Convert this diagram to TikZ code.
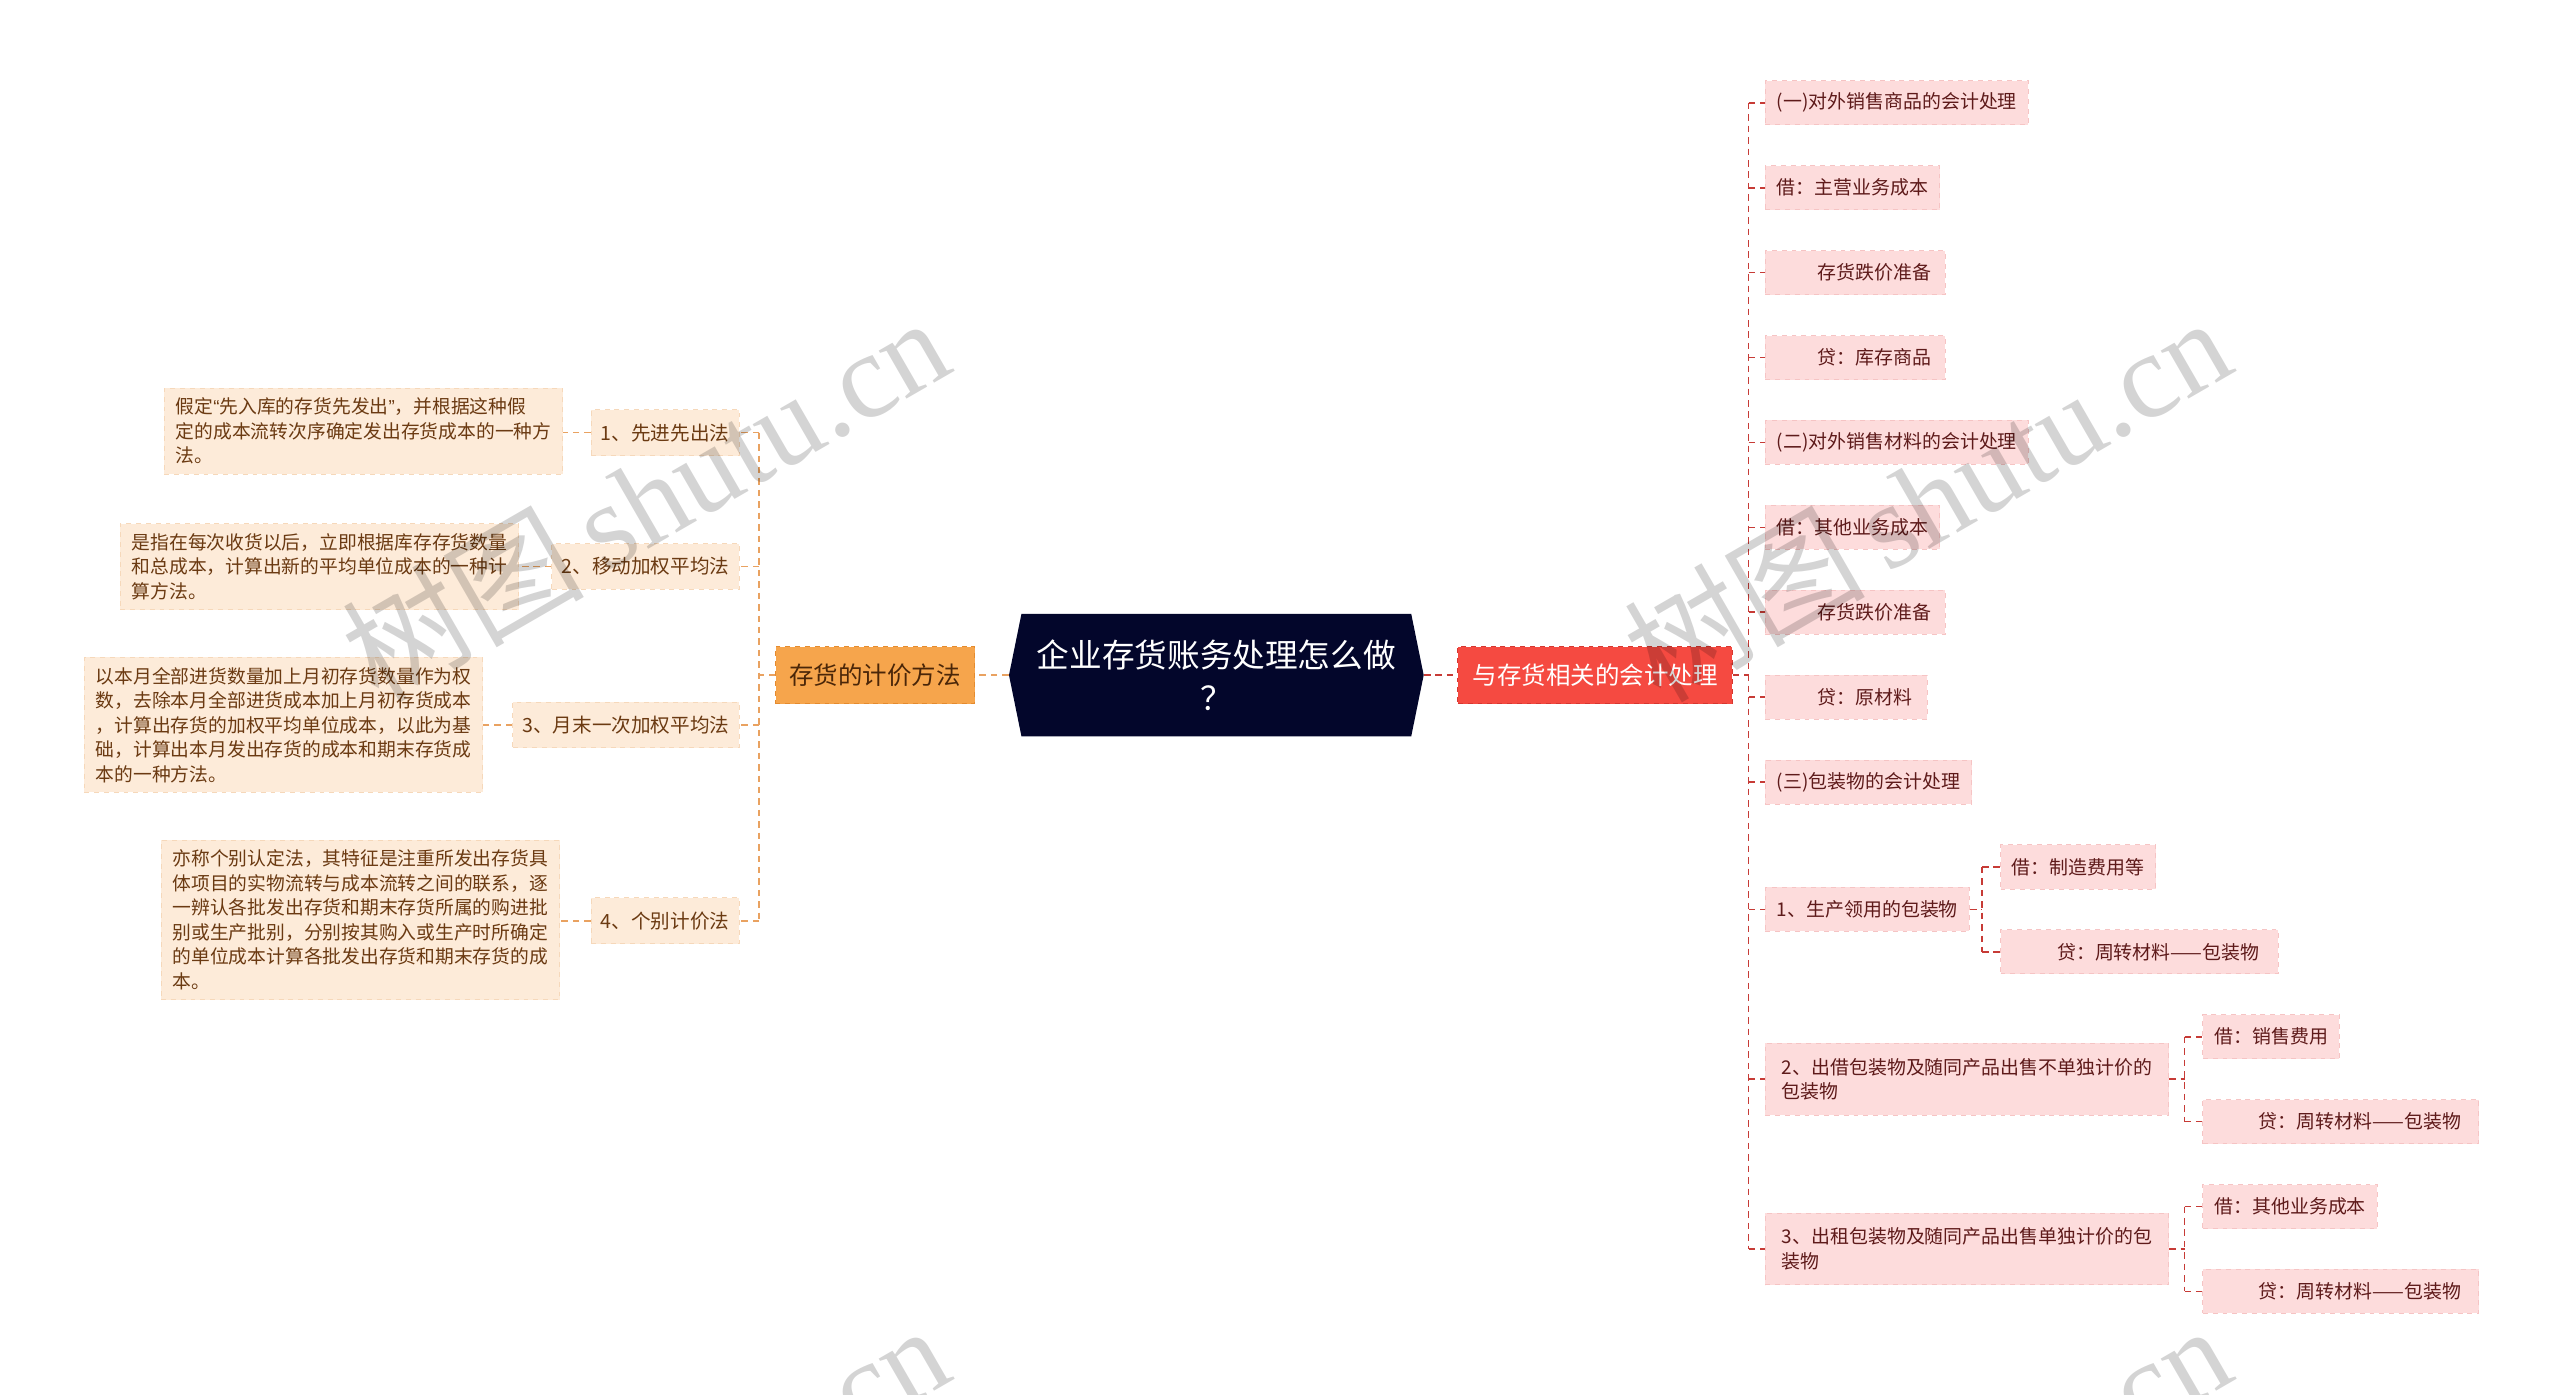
\documentclass[tikz,border=0pt]{standalone}
\usepackage{fontspec}
\setmainfont{Noto Sans CJK SC}
\newfontfamily\wmserif{Liberation Serif}
\newfontfamily\qfont{Liberation Sans}
\usetikzlibrary{shapes.symbols}
\XeTeXlinebreaklocale "zh"
\definecolor{rootfill}{HTML}{03062B}
\definecolor{omain}{HTML}{F6A54C}
\definecolor{omainb}{HTML}{E58B2E}
\definecolor{omaintext}{HTML}{4A2608}
\definecolor{rmainc}{HTML}{F54A41}
\definecolor{rmainb}{HTML}{D63730}
\definecolor{lfill}{HTML}{FDEBD9}
\definecolor{lborder}{HTML}{F6D8BA}
\definecolor{ltext}{HTML}{6B3A12}
\definecolor{rfill}{HTML}{FDDCDC}
\definecolor{rborder}{HTML}{F6C4C4}
\definecolor{rtext}{HTML}{5E1A1A}
\definecolor{lline}{HTML}{E9A261}
\definecolor{rline}{HTML}{C73B36}
\begin{document}
\begin{tikzpicture}[x=1pt,y=-1pt,
  rootnode/.style={shape=signal, signal to=east and west, signal pointer angle=157,
    fill=rootfill, minimum width=254pt, minimum height=75pt, inner sep=0pt,
    text=white, align=center, font=\fontsize{20}{26}\selectfont},
  mainl/.style={fill=omain, draw=omainb, dashed, line width=0.6pt, minimum width=122pt,
    minimum height=35pt, inner sep=0pt, text=omaintext, font=\fontsize{15}{18}\selectfont},
  mainr/.style={fill=rmainc, draw=rmainb, dashed, line width=0.6pt, minimum width=168pt,
    minimum height=35pt, inner sep=0pt, text=white, font=\fontsize{15}{18}\selectfont},
  lbox/.style={fill=lfill, draw=lborder, dashed, line width=0.6pt, anchor=east,
    minimum height=28pt, inner xsep=6pt, inner ysep=0pt, text=ltext,
    font=\fontsize{12}{15}\selectfont},
  dbox/.style={fill=lfill, draw=lborder, dashed, line width=0.6pt, anchor=east,
    inner xsep=7pt, inner ysep=6pt, text=ltext, align=left,
    font=\fontsize{11.5}{15}\selectfont},
  rbox/.style={fill=rfill, draw=rborder, dashed, line width=0.6pt, anchor=west,
    minimum height=27pt, inner xsep=7pt, inner ysep=0pt, text=rtext, align=left,
    font=\fontsize{11.6}{15}\selectfont},
  lcon/.style={draw=lline, line width=1pt, dash pattern=on 4pt off 3pt},
  rcon/.style={draw=rline, line width=1pt, dash pattern=on 4pt off 3pt},
  wm/.style={rotate=30, text=black, opacity=0.17, inner sep=0pt,
    font=\fontsize{74}{80}\selectfont}
]
\fill[white] (0,0) rectangle (1568,854);

% root and main branches
\node[rootnode] (root) at (745,413.5) {企业存货账务处理怎么做\\？};
\node[mainl] (lmain) at (536,413.5) {存货的计价方法};
\node[mainr] (rmain) at (977,413.5) {与存货相关的会计处理};

% left children
\node[lbox] (c1) at (453,265) {1、先进先出法};
\node[lbox] (c2) at (453,347) {2、移动加权平均法};
\node[lbox] (c3) at (453,444) {3、月末一次加权平均法};
\node[lbox] (c4) at (453,564) {4、个别计价法};

\node[dbox] (d1) at (345,264) {假定{\qfont “}先入库的存货先发出{\qfont ”}，并根据这种假\\定的成本流转次序确定发出存货成本的一种方\\法。};
\node[dbox] (d2) at (318,347) {是指在每次收货以后，立即根据库存存货数量\\和总成本，计算出新的平均单位成本的一种计\\算方法。};
\node[dbox] (d3) at (296,444) {以本月全部进货数量加上月初存货数量作为权\\数，去除本月全部进货成本加上月初存货成本\\，计算出存货的加权平均单位成本，以此为基\\础，计算出本月发出存货的成本和期末存货成\\本的一种方法。};
\node[dbox] (d4) at (343,563.5) {亦称个别认定法，其特征是注重所发出存货具\\体项目的实物流转与成本流转之间的联系，逐\\一辨认各批发出存货和期末存货所属的购进批\\别或生产批别，分别按其购入或生产时所确定\\的单位成本计算各批发出存货和期末存货的成\\本。};

% right children
\node[rbox, minimum width=161pt] (r1) at (1081,63) {(一)对外销售商品的会计处理};
\node[rbox, minimum width=106pt] (r2) at (1081,115) {借：主营业务成本};
\node[rbox, minimum width=110pt] (r3) at (1081,167) {\hspace*{2em}存货跌价准备};
\node[rbox, minimum width=110pt] (r4) at (1081,219) {\hspace*{2em}贷：库存商品};
\node[rbox, minimum width=161pt] (r5) at (1081,271) {(二)对外销售材料的会计处理};
\node[rbox, minimum width=106pt] (r6) at (1081,323) {借：其他业务成本};
\node[rbox, minimum width=110pt] (r7) at (1081,375) {\hspace*{2em}存货跌价准备};
\node[rbox, minimum width=99pt] (r8) at (1081,427) {\hspace*{2em}贷：原材料};
\node[rbox, minimum width=125pt] (r9) at (1081,479) {(三)包装物的会计处理};
\node[rbox, minimum width=125pt] (r10) at (1081,557) {1、生产领用的包装物};
\node[rbox, minimum width=94pt] (r10a) at (1225,531) {借：制造费用等};
\node[rbox, minimum width=170pt] (r10b) at (1225,583) {\hspace*{2em}贷：周转材料——包装物};
\node[rbox, minimum width=247pt, minimum height=44pt] (r11) at (1081,661) {2、出借包装物及随同产品出售不单独计价的\\包装物};
\node[rbox, minimum width=83pt] (r11a) at (1349,635) {借：销售费用};
\node[rbox, minimum width=169pt] (r11b) at (1349,687) {\hspace*{2em}贷：周转材料——包装物};
\node[rbox, minimum width=247pt, minimum height=44pt] (r12) at (1081,765) {3、出租包装物及随同产品出售单独计价的包\\装物};
\node[rbox, minimum width=106pt] (r12a) at (1349,739) {借：其他业务成本};
\node[rbox, minimum width=169pt] (r12b) at (1349,791) {\hspace*{2em}贷：周转材料——包装物};

% connectors: root
\draw[lcon] (root.west) -- (lmain.east);
\draw[rcon] (root.east) -- (rmain.west);

% left tree
\coordinate (ls) at (465,413.5);
\draw[lcon] (lmain.west) -- (ls);
\draw[lcon] (ls |- c1.east) -- (ls |- c4.east);
\foreach \c in {c1,c2,c3,c4} \draw[lcon] (ls |- \c.east) -- (\c.east);
\draw[lcon] (c1.west) -- (d1.east |- c1.west);
\draw[lcon] (c2.west) -- (d2.east |- c2.west);
\draw[lcon] (c3.west) -- (d3.east |- c3.west);
\draw[lcon] (c4.west) -- (d4.east |- c4.west);

% right tree
\coordinate (rs) at (1071,413.5);
\draw[rcon] (rmain.east) -- (rs);
\draw[rcon] (rs |- r1.west) -- (rs |- r12.west);
\foreach \r in {r1,r2,r3,r4,r5,r6,r7,r8,r9,r10,r11,r12} \draw[rcon] (rs |- \r.west) -- (\r.west);

\coordinate (s10) at (1214,557);
\draw[rcon] (r10.east) -- (s10);
\draw[rcon] (s10 |- r10a.west) -- (s10 |- r10b.west);
\draw[rcon] (s10 |- r10a.west) -- (r10a.west);
\draw[rcon] (s10 |- r10b.west) -- (r10b.west);

\coordinate (s11) at (1338,661);
\draw[rcon] (r11.east) -- (s11);
\draw[rcon] (s11 |- r11a.west) -- (s11 |- r11b.west);
\draw[rcon] (s11 |- r11a.west) -- (r11a.west);
\draw[rcon] (s11 |- r11b.west) -- (r11b.west);

\coordinate (s12) at (1338,765);
\draw[rcon] (r12.east) -- (s12);
\draw[rcon] (s12 |- r12a.west) -- (s12 |- r12b.west);
\draw[rcon] (s12 |- r12a.west) -- (r12a.west);
\draw[rcon] (s12 |- r12b.west) -- (r12b.west);

% watermarks
\begin{scope}
\clip (0,0) rectangle (1568,854);
\node[wm] (wm1) at (395,305) {树图\,{\wmserif shutu.cn}};
\node[wm] (wm2) at (1180,305) {树图\,{\wmserif shutu.cn}};
\node[wm] (wm3) at (395,922) {树图\,{\wmserif shutu.cn}};
\node[wm] (wm4) at (1180,922) {树图\,{\wmserif shutu.cn}};
\end{scope}

\pgfresetboundingbox
\path[use as bounding box] (0,0) rectangle (1568,854);
\end{tikzpicture}
\end{document}
